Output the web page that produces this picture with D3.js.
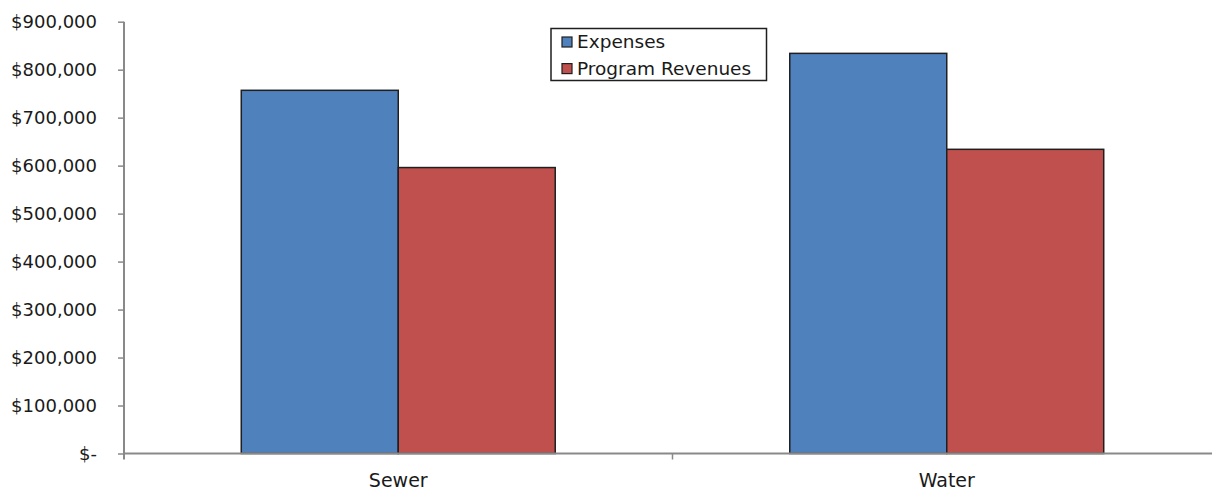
<!DOCTYPE html>
<html>
<head>
<meta charset="utf-8">
<script src="https://cdn.jsdelivr.net/npm/d3@7"></script>
<style>
  html, body { margin: 0; padding: 0; background: #fff; }
  svg { display: block; font-family: "DejaVu Sans", Verdana, sans-serif; }
</style>
</head>
<body>
<svg id="chart" width="1212" height="491"></svg>
<script>
// Business-type activities: expenses vs. program revenues
const categories = ["Sewer", "Water"];
const seriesNames = ["Expenses", "Program Revenues"];
const expenses = [757000, 834000];
const programRevenues = [596000, 634000];
const yTicks = [0, 100000, 200000, 300000, 400000, 500000, 600000, 700000, 800000, 900000];
const colors = ["#4F81BD", "#C0504D"];

const svg = d3.select("#chart");
const plotLeft = 124, plotRight = 1221, plotTop = 21.7, plotBottom = 453.5;

const x0 = d3.scaleBand().domain(categories).range([plotLeft, plotRight]).paddingInner(0).paddingOuter(0);
const x1 = d3.scaleBand().domain(seriesNames).range([0, x0.bandwidth()]).paddingOuter(0.747).paddingInner(0);
const y = d3.scaleLinear().domain([0, 900000]).range([plotBottom, plotTop]);

const fmt = v => v === 0 ? "$-" : "$" + d3.format(",")(v);

// bars
const rows = categories.map((c, i) => ({ cat: c, values: [expenses[i], programRevenues[i]] }));
const groups = svg.append("g").selectAll("g").data(rows).join("g")
  .attr("transform", d => `translate(${x0(d.cat)},0)`);
groups.selectAll("rect").data(d => d.values.map((v, j) => ({ name: seriesNames[j], v, j })))
  .join("rect")
  .attr("x", d => x1(d.name))
  .attr("width", x1.bandwidth())
  .attr("y", d => y(d.v))
  .attr("height", d => y(0) - y(d.v))
  .attr("fill", d => colors[d.j])
  .attr("stroke", "#1f1f1f")
  .attr("stroke-width", 1.5);

// y axis
const yAxis = svg.append("g").attr("transform", `translate(${plotLeft},0)`)
  .call(d3.axisLeft(y).tickValues(yTicks).tickFormat(fmt).tickSize(6).tickPadding(21));
yAxis.select(".domain").attr("stroke", "#898989").attr("stroke-width", 2)
  .attr("d", `M0,${plotTop}V${plotBottom + 6}`);
yAxis.selectAll(".tick line").attr("stroke", "#898989").attr("stroke-width", 1.5);
yAxis.selectAll(".tick text").attr("font-size", 18).attr("fill", "#1a1a1a")
  .attr("font-family", "DejaVu Sans, sans-serif");

// x axis
const xAxis = svg.append("g").attr("transform", `translate(0,${plotBottom})`)
  .call(d3.axisBottom(x0).tickSize(0).tickPadding(20));
xAxis.select(".domain").attr("stroke", "#898989").attr("stroke-width", 2)
  .attr("d", `M${plotLeft},0H${plotRight}`);
xAxis.selectAll(".tick text").attr("font-size", 19).attr("fill", "#1a1a1a")
  .attr("font-family", "DejaVu Sans, sans-serif");
// boundary tick between categories
svg.append("g").selectAll("line").data(categories.slice(1)).join("line")
  .attr("x1", d => x0(d)).attr("x2", d => x0(d))
  .attr("y1", plotBottom).attr("y2", plotBottom + 6)
  .attr("stroke", "#898989").attr("stroke-width", 1.5);

// legend
const lg = svg.append("g").attr("transform", "translate(551,28.5)");
lg.append("rect").attr("width", 215.5).attr("height", 52)
  .attr("fill", "#fff").attr("stroke", "#1f1f1f").attr("stroke-width", 1.5);
const li = lg.selectAll("g.item").data(seriesNames).join("g").attr("class", "item")
  .attr("transform", (d, i) => `translate(11,${8.5 + i * 26.6})`);
li.append("rect").attr("width", 10).attr("height", 10)
  .attr("fill", (d, i) => colors[i]).attr("stroke", "#1f1f1f").attr("stroke-width", 1.2);
li.append("text").attr("x", 15).attr("y", 5).attr("dy", "0.35em")
  .attr("font-size", 18.5).attr("fill", "#1a1a1a").text(d => d);
</script>
</body>
</html>
